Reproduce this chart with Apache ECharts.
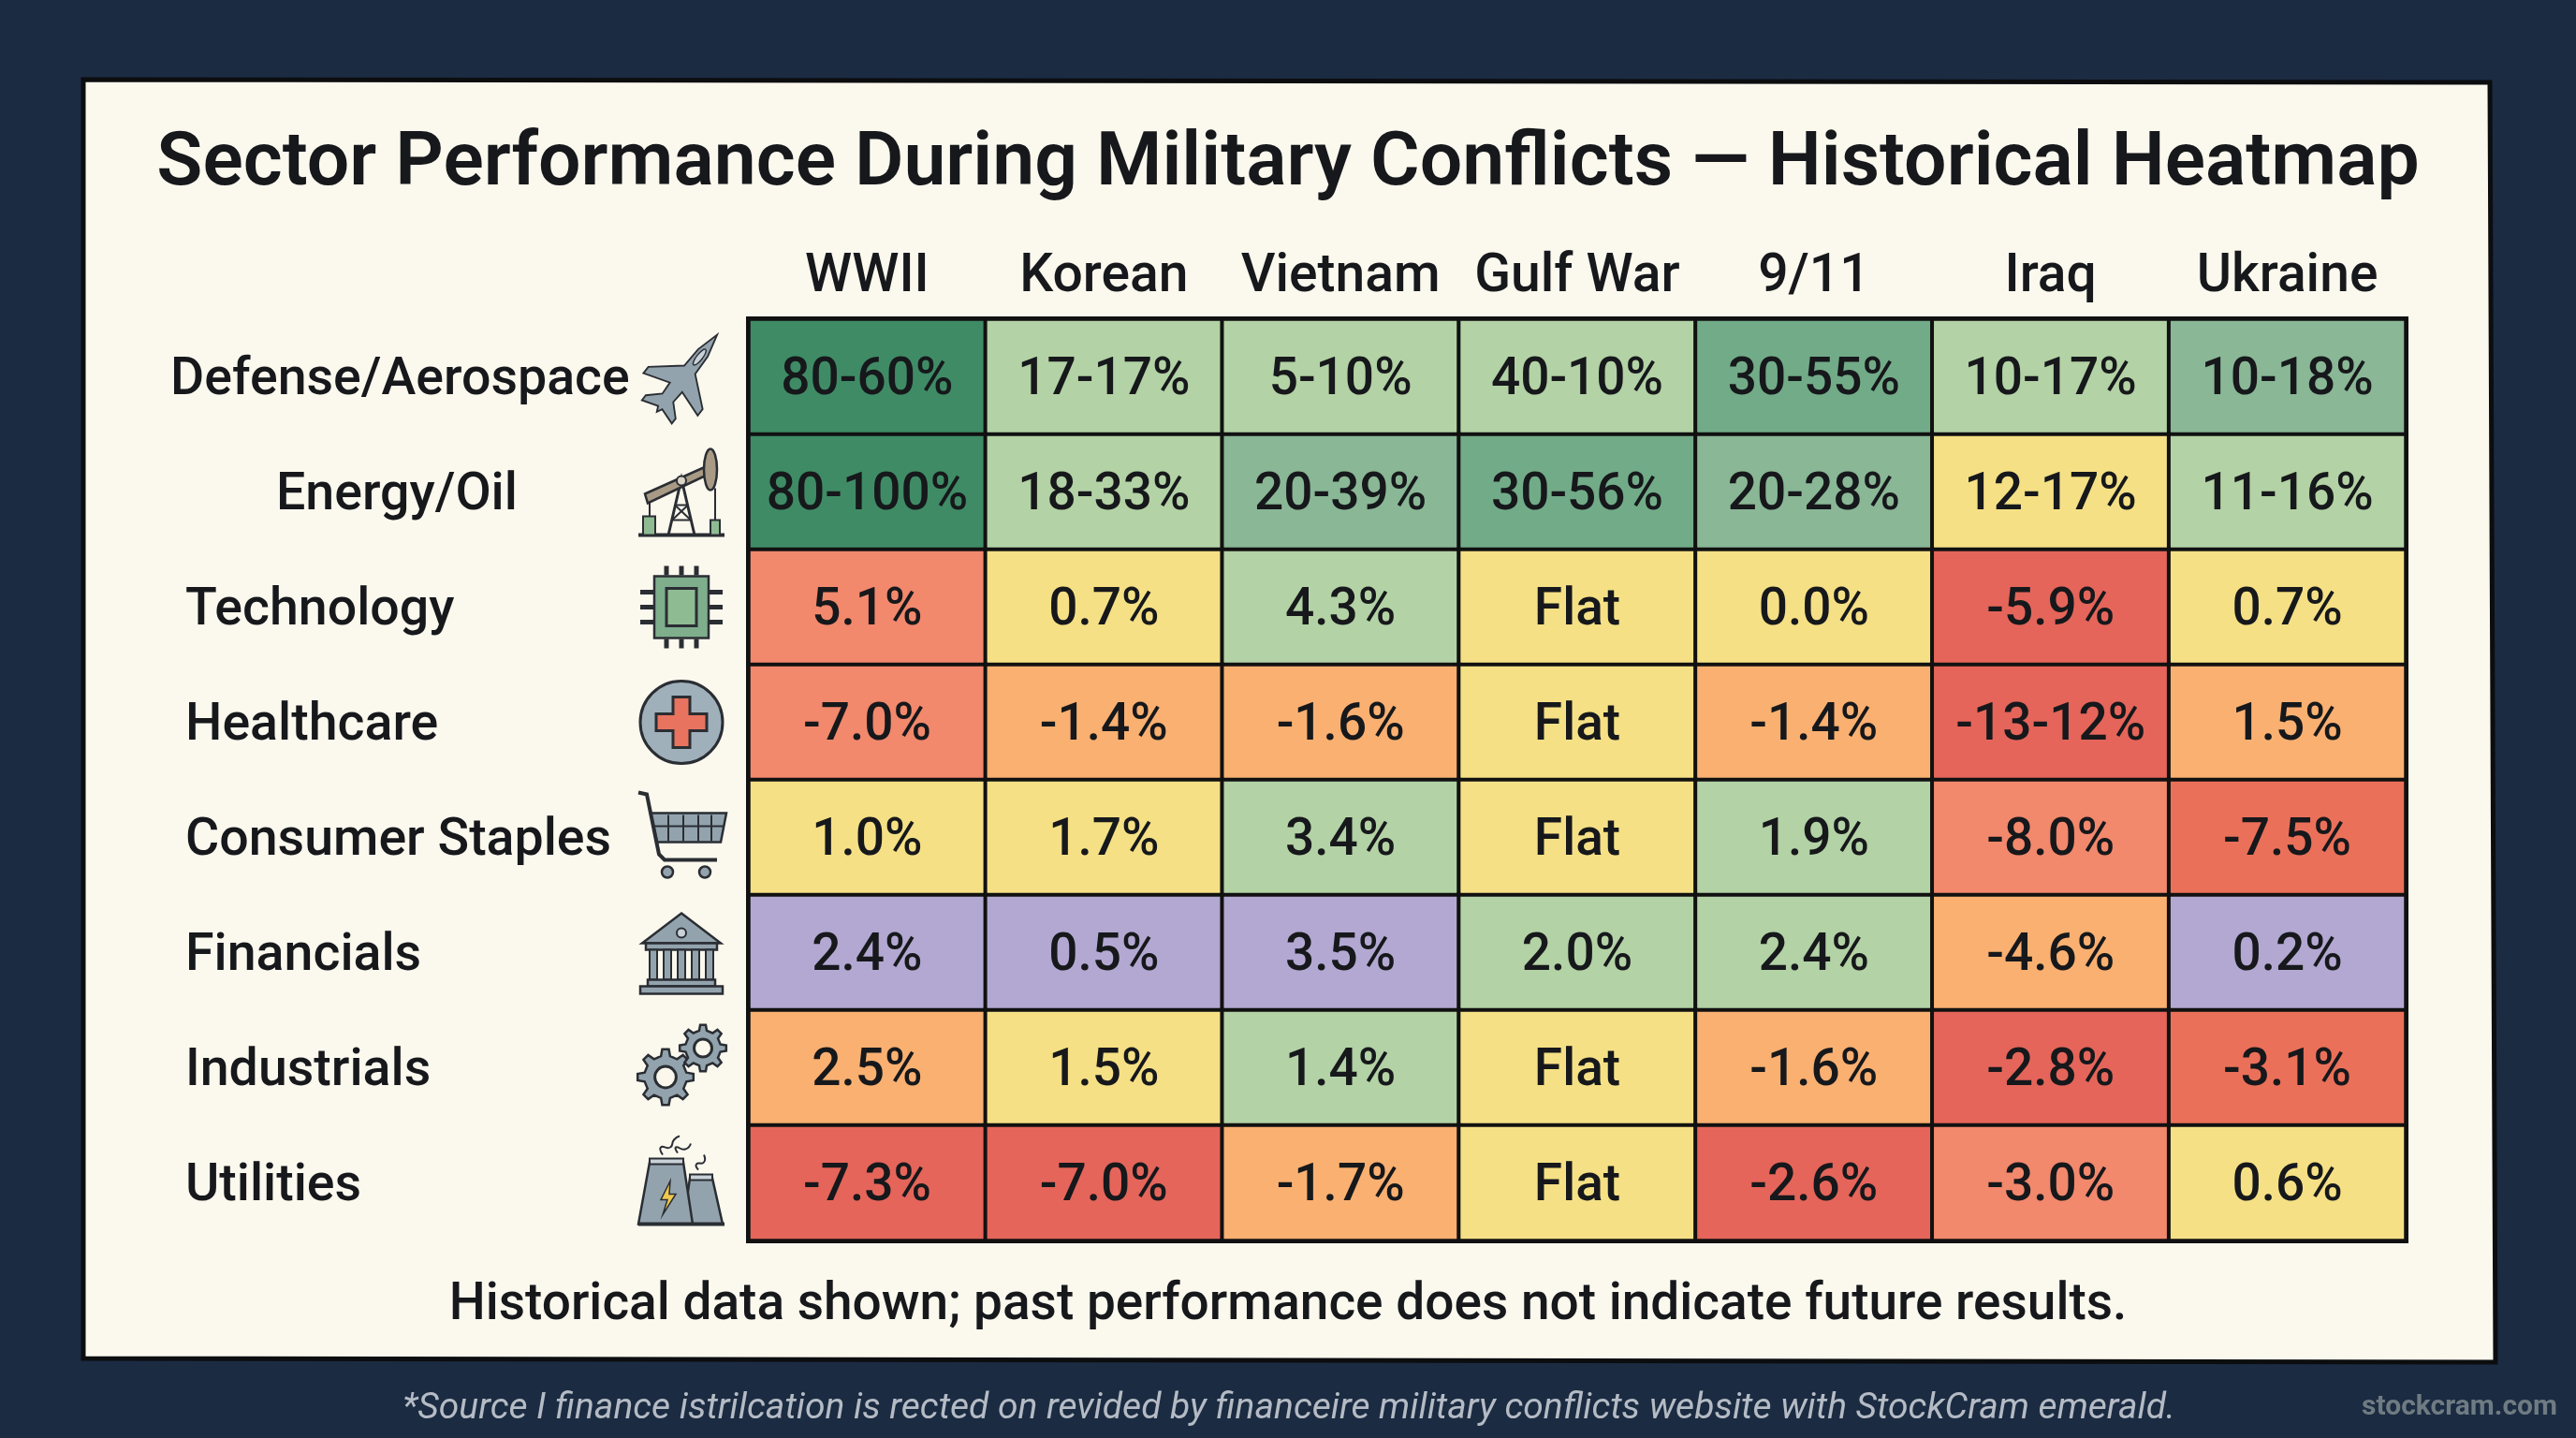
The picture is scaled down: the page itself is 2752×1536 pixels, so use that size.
<!DOCTYPE html>
<html>
<head>
<meta charset="utf-8">
<title>Sector Performance During Military Conflicts</title>
<style>
  html, body { margin: 0; padding: 0; background: #1b2b42; }
  #chart { width: 2752px; height: 1536px; }
</style>
<script src="https://cdn.jsdelivr.net/npm/echarts@6/dist/echarts.min.js"></script>
</head>
<body>
<div id="chart"></div>
<script>
const conflicts = ['WWII', 'Korean', 'Vietnam', 'Gulf War', '9/11', 'Iraq', 'Ukraine'];
const sectors = ['Defense/Aerospace', 'Energy/Oil', 'Technology', 'Healthcare', 'Consumer Staples', 'Financials', 'Industrials', 'Utilities'];

// cell text as printed in the picture, one list per sector
const defense = ['80-60%', '17-17%', '5-10%', '40-10%', '30-55%', '10-17%', '10-18%'];
const energy = ['80-100%', '18-33%', '20-39%', '30-56%', '20-28%', '12-17%', '11-16%'];
const technology = ['5.1%', '0.7%', '4.3%', 'Flat', '0.0%', '-5.9%', '0.7%'];
const healthcare = ['-7.0%', '-1.4%', '-1.6%', 'Flat', '-1.4%', '-13-12%', '1.5%'];
const staples = ['1.0%', '1.7%', '3.4%', 'Flat', '1.9%', '-8.0%', '-7.5%'];
const financials = ['2.4%', '0.5%', '3.5%', '2.0%', '2.4%', '-4.6%', '0.2%'];
const industrials = ['2.5%', '1.5%', '1.4%', 'Flat', '-1.6%', '-2.8%', '-3.1%'];
const utilities = ['-7.3%', '-7.0%', '-1.7%', 'Flat', '-2.6%', '-3.0%', '0.6%'];
const cellLabels = [defense, energy, technology, healthcare, staples, financials, industrials, utilities];

// colour class of each cell, read by eye (index into shadeColors)
const defenseShade = [0, 3, 3, 3, 1, 3, 2];
const energyShade = [0, 3, 2, 1, 2, 4, 3];
const technologyShade = [6, 4, 3, 4, 4, 7, 4];
const healthcareShade = [6, 5, 5, 4, 5, 7, 5];
const staplesShade = [4, 4, 3, 4, 3, 6, 9];
const financialsShade = [8, 8, 8, 3, 3, 5, 8];
const industrialsShade = [5, 4, 3, 4, 5, 7, 9];
const utilitiesShade = [7, 7, 5, 4, 7, 6, 4];
const cellShades = [defenseShade, energyShade, technologyShade, healthcareShade, staplesShade, financialsShade, industrialsShade, utilitiesShade];

const shadeColors = ['#3f8b65', '#72ab88', '#8ab796', '#b3d2a5', '#f5e085', '#f9b071', '#f2886c', '#e5655a', '#b3a8d2', '#eb7059'];

const INK = '#16181b';
const FONT = 'Roboto';
const ICON_INK = '#2a2e33';
const STEEL = '#93a3ae';

const heatData = [];
cellLabels.forEach((row, y) => row.forEach((text, x) => heatData.push([x, y, cellShades[y][x], text])));

const chart = echarts.init(document.getElementById('chart'));

const textTitle = (text, x, y, size, weight, color, extra = {}) => ({
    text,
    left: x,
    top: y,
    textAlign: extra.align || 'center',
    textVerticalAlign: 'middle',
    padding: 0,
    textStyle: {color, fontSize: size, fontWeight: weight, fontFamily: FONT, fontStyle: extra.style || 'normal'},
});

const option = {
    backgroundColor: '#1b2b42',
    animation: false,
    title: [
        textTitle('Sector Performance During Military Conflicts \u2014 Historical Heatmap', 1376, 177, 80.5, 600, INK),
        textTitle('Historical data shown; past performance does not indicate future results.', 1376, 1395, 55, 500, INK),
        textTitle('*Source I finance istrilcation is rected on revided by financeire military conflicts website with StockCram emerald.', 1377, 1505, 39, 400, '#b4bbc4', {style: 'italic'}),
        textTitle('stockcram.com', 2732, 1503, 30, 700, '#6f7b82', {align: 'right'}),
    ],
    grid: {
        left: 800, top: 341, width: 1770, height: 984,
        outerBoundsMode: 'none',
        show: true, borderColor: '#111', borderWidth: 6, backgroundColor: 'transparent',
    },
    xAxis: {
        type: 'category',
        position: 'top',
        data: conflicts,
        axisLine: {show: false},
        axisTick: {show: false},
        splitLine: {show: false},
        axisLabel: {interval: 0, color: INK, fontSize: 57, fontWeight: 500, fontFamily: FONT, margin: 16},
    },
    yAxis: {
        type: 'category',
        inverse: true,
        // the first two labels sit off the shared left edge in the picture,
        // and a negative top padding nudges the text just below the row centre
        data: sectors.map((name, i) => ({
            value: name,
            textStyle: {align: 'left', verticalAlign: 'top', lineHeight: 56, padding: [-23, 0, 0, i === 0 ? 0 : i === 1 ? 113 : 16]},
        })),
        axisLine: {show: false},
        axisTick: {show: false},
        splitLine: {show: false},
        axisLabel: {interval: 0, color: INK, fontSize: 55.5, fontWeight: 500, fontFamily: FONT, margin: 618},
    },
    visualMap: {
        type: 'piecewise',
        show: false,
        dimension: 2,
        seriesIndex: 0,
        pieces: shadeColors.map((color, value) => ({value, color})),
    },
    series: [{
        type: 'heatmap',
        data: heatData,
        itemStyle: {borderColor: '#111', borderWidth: 4},
        label: {
            show: true,
            formatter: p => p.value[3],
            color: INK,
            fontSize: 55,
            fontWeight: 500,
            fontFamily: FONT,
            offset: [0, 5],
        },
    }],
};
chart.setOption(option);

// small pictograms beside the sector names, drawn around (0, 0)
const lineStyle = (lw = 3) => ({fill: 'none', stroke: ICON_INK, lineWidth: lw});
const solid = (fill, lw = 2.5) => ({fill, stroke: ICON_INK, lineWidth: lw});
const poly = (points, fill, lw) => ({type: 'polygon', shape: {points}, style: solid(fill, lw)});
const rect = (x, y, width, height, fill, lw) => ({type: 'rect', shape: {x, y, width, height}, style: solid(fill, lw)});
const circle = (cx, cy, r, fill, lw) => ({type: 'circle', shape: {cx, cy, r}, style: solid(fill, lw)});
const wire = (points, lw) => ({type: 'polyline', shape: {points}, style: lineStyle(lw)});
const curl = (points, lw) => ({type: 'polyline', shape: {points, smooth: 0.6}, style: lineStyle(lw)});

const gear = (cx, cy, r) => {
    const pts = [];
    const teeth = 8;
    for (let i = 0; i < teeth; i++) {
        const a = (i / teeth) * Math.PI * 2;
        const w = Math.PI / teeth;
        [[-0.55, 0.76], [-0.3, 1], [0.3, 1], [0.55, 0.76]].forEach(([da, k]) => {
            pts.push([cx + Math.cos(a + da * w) * r * k, cy + Math.sin(a + da * w) * r * k]);
        });
    }
    return [poly(pts, STEEL, 2.5), circle(cx, cy, r * 0.38, '#fbf7ec', 3)];
};

const jetIcon = () => [{
    type: 'group',
    x: 3,
    rotation: -38 * Math.PI / 180,
    scaleX: 0.92,
    scaleY: 0.95,
    children: [
        poly([[0, -60], [7, -34], [8, -10], [40, 16], [40, 25], [9, 15], [8, 30], [22, 43], [22, 50], [3, 44], [0, 50], [-3, 44], [-22, 50], [-22, 43], [-8, 30], [-9, 15], [-40, 25], [-40, 16], [-8, -10], [-7, -34]], STEEL, 2),
        {type: 'ellipse', shape: {cx: 0, cy: -28, rx: 3.5, ry: 11}, style: solid('#c9d2d8', 1.5)},
    ],
}];

const pumpIcon = () => [
    wire([[-46, 46], [46, 46]], 4),
    wire([[-14, 46], [0, -14], [14, 46]], 3),
    wire([[-10, 30], [11, 30]], 2),
    wire([[-7, 14], [7, 14]], 2),
    wire([[-10, 30], [7, 14]], 2),
    wire([[10, 30], [-7, 14]], 2),
    wire([[-34, 4], [-34, 26]], 2),
    wire([[36, -4], [36, 30]], 2),
    rect(-41, 26, 13, 20, '#8fbb93', 2),
    rect(31, 30, 10, 16, '#8fbb93', 2),
    poly([[-39, 2], [28, -28], [31, -20], [-36, 12]], '#a89a85', 2.5),
    {type: 'ellipse', shape: {cx: 31, cy: -24, rx: 7, ry: 22}, style: solid('#a89a85', 2.5)},
    circle(0, -12, 5, '#d9d4c6', 2),
];

const chipIcon = () => {
    const pins = [];
    [-16, 0, 16].forEach(o => {
        pins.push(wire([[o, -34], [o, -44]], 5), wire([[o, 34], [o, 44]], 5));
        pins.push(wire([[-30, o], [-44, o]], 5), wire([[30, o], [44, o]], 5));
    });
    return [
        ...pins,
        rect(-29, -33, 58, 66, '#7fae8c', 2.5),
        rect(-16, -20, 32, 40, '#8fbb93', 3),
    ];
};

const medicalIcon = () => [
    circle(0, 0, 44, '#9fb0bb', 3),
    poly([[-9, -27], [9, -27], [9, -9], [27, -9], [27, 9], [9, 9], [9, 27], [-9, 27], [-9, 9], [-27, 9], [-27, -9], [-9, -9]], '#e8735f', 3),
];

const cartIcon = () => {
    const grid = [];
    [-14, 2, 18, 32].forEach(x => grid.push(wire([[x, -24], [x, 4]], 2)));
    grid.push(wire([[-31, -12], [45, -12]], 2));
    return [
        poly([[-33, -26], [48, -26], [42, 5], [-26, 5]], STEEL, 2.5),
        ...grid,
        wire([[-46, -48], [-37, -46], [-24, 18], [-18, 24], [38, 24]], 4),
        circle(-15, 37, 6, STEEL, 2.5),
        circle(25, 37, 6, STEEL, 2.5),
    ];
};

const bankIcon = () => [
    poly([[0, -42], [42, -10], [-42, -10]], STEEL, 2.5),
    circle(0, -21, 5, '#c9d2d8', 2),
    rect(-38, -10, 76, 7, STEEL, 2.5),
    ...[-30, -15, 0, 15, 30].map(x => rect(x - 4, -3, 8, 32, STEEL, 2)),
    rect(-36, 29, 72, 7, STEEL, 2.5),
    rect(-44, 36, 88, 8, STEEL, 2.5),
];

const gearsIcon = () => [...gear(-17, 10, 30), ...gear(23, -21, 25)];

const plantIcon = () => [
    poly([[9, -5], [33, -5], [44, 44], [2, 44]], STEEL, 2.5),
    poly([[-34, -22], [2, -22], [12, 44], [-46, 44]], STEEL, 2.5),
    rect(-34, -26, 36, 6, '#c9d2d8', 2),
    rect(9, -9, 24, 6, '#c9d2d8', 2),
    poly([[-12, -2], [-22, 18], [-15, 18], [-20, 34], [-6, 12], [-13, 12]], '#f0c84e', 1.5),
    wire([[-46, 44], [46, 44]], 4),
    curl([[-20, -30], [-22, -38], [-12, -38], [-8, -46], [-2, -50]], 2),
    curl([[-4, -32], [-6, -38], [4, -36], [10, -42]], 2),
    curl([[18, -14], [16, -20], [24, -22], [24, -30]], 2),
];

const icons = [jetIcon, pumpIcon, chipIcon, medicalIcon, cartIcon, bankIcon, gearsIcon, plantIcon];

chart.setOption({
    graphic: [
        {
            type: 'polygon',
            z: -10,
            shape: {points: [[89, 85], [2660, 88], [2666, 1455], [89, 1451]]},
            style: {fill: '#fbf8ee', stroke: '#0c0d0f', lineWidth: 5},
        },
        ...icons.map((icon, i) => ({
            type: 'group',
            x: 728,
            y: chart.convertToPixel({yAxisIndex: 0}, sectors[i]),
            children: icon(),
        })),
    ],
});
</script>
</body>
</html>
